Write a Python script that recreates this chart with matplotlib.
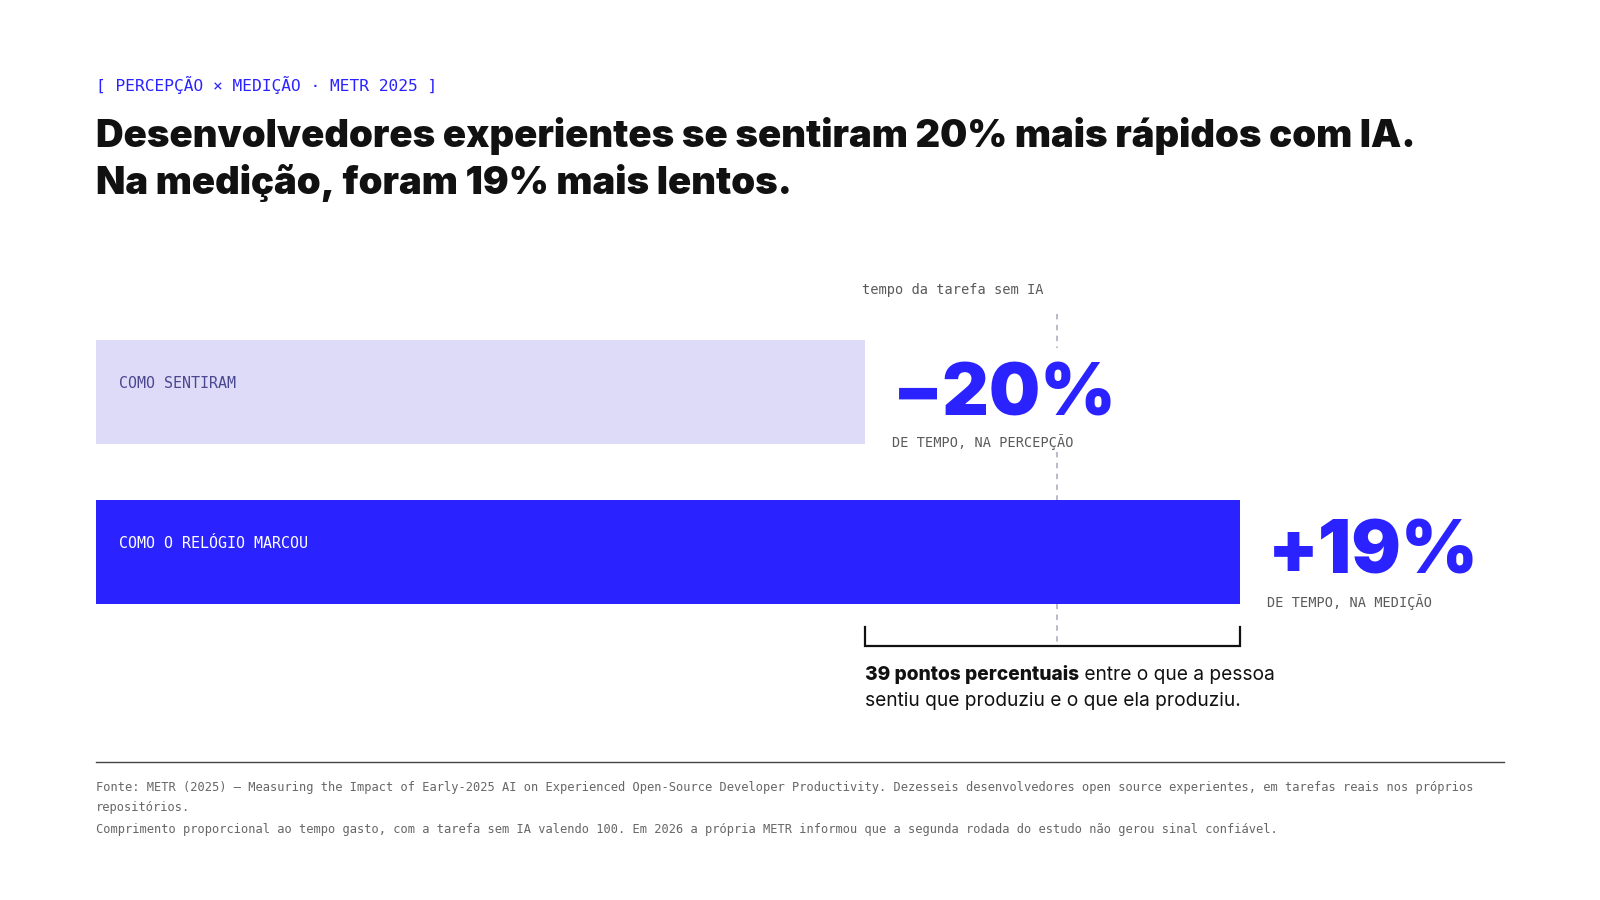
import matplotlib
matplotlib.use("Agg")
import matplotlib.pyplot as plt

# dados
categorias = ["COMO SENTIRAM", "COMO O RELÓGIO MARCOU"]
valores = [80, 119]          # tempo gasto, tarefa sem IA = 100
base = 100
rotulos = ["−20%", "+19%"]
subrotulos = ["DE TEMPO, NA PERCEPÇÃO", "DE TEMPO, NA MEDIÇÃO"]
diferenca = valores[1] - valores[0]

AZUL = "#2B23FF"
LILAS = "#DEDBF9"
CINZA = "#5a5a5a"
MONO = ["DejaVu Sans Mono"]
SANS = ["Inter", "DejaVu Sans"]

W, H = 1600, 900
fig = plt.figure(figsize=(16, 9), dpi=100)
ax = fig.add_axes([0, 0, 1, 1])
ax.axis("off")

# escala: 0 -> px 96, 100 -> px 1057
x0, x100 = 96, 1057
u = (x100 - x0) / base
ax.set_xlim(-x0 / u, (W - x0) / u)
ax.set_ylim(H, 0)

def px(x):
    return (x - x0) / u

# barras
ys = [392, 552]
cores = [LILAS, AZUL]
ax.barh(ys, valores, height=104, left=0, color=cores, zorder=2)

# linha de referência (tarefa sem IA)
ax.vlines([base, base], [314, 452], [348, 645], colors="#b4b4c4",
          linestyles=(0, (3, 3)), lw=1.3, zorder=1)
ax.text(px(862), 290, "tempo da tarefa sem IA", family=MONO, fontsize=9.8,
        color=CINZA, va="center", ha="left")

# rótulos das barras
cores_txt = ["#4a4690", "white"]
for y, c, ct in zip(ys, categorias, cores_txt):
    ax.text(px(119), y - 9, c, family=MONO, fontsize=10.8, color=ct,
            va="center", ha="left", zorder=3)

# números grandes
pos_num = [(px(893), 415, 442), (px(1268), 573, 602)]
tamanhos = [52, 53]
for (x, yn, ys_), r, s, fs in zip(pos_num, rotulos, subrotulos, tamanhos):
    ax.text(x, yn, r, family=SANS, fontsize=fs, fontweight="black", color=AZUL,
            va="baseline", ha="left", zorder=3)
    ax.text(x - 0.1, ys_, s, family=MONO, fontsize=9.8, color=CINZA,
            va="center", ha="left", zorder=3)

# colchete da diferença
yb0, yb1 = 627, 646
ax.plot([valores[0], valores[0], valores[1], valores[1]], [yb0, yb1, yb1, yb0],
        color="#111111", lw=1.6, solid_joinstyle="miter", zorder=3)

fig.canvas.draw()
r = fig.canvas.get_renderer()
t1 = ax.text(valores[0], 675, f"{diferenca} pontos percentuais", family=SANS,
             fontsize=13.8, fontweight="heavy", color="#111111", va="center", ha="left")
bb = t1.get_window_extent(r)
x_end = ax.transData.inverted().transform((bb.x1, 0))[0]
ax.text(x_end, 675, " entre o que a pessoa", family=SANS, fontsize=13.8,
        color="#111111", va="center", ha="left")
ax.text(valores[0], 701, "sentiu que produziu e o que ela produziu.", family=SANS,
        fontsize=13.8, color="#111111", va="center", ha="left")

# cabeçalho
fig.text(96 / W, 1 - 85 / H, "[ PERCEPÇÃO × MEDIÇÃO · METR 2025 ]", family=MONO,
         fontsize=11.7, color=AZUL, va="center", ha="left")
fig.text(96 / W, 1 - 147 / H, "Desenvolvedores experientes se sentiram 20% mais rápidos com IA.",
         family=SANS, fontsize=27.6, fontweight="black", color="#111111", va="baseline", ha="left")
fig.text(96 / W, 1 - 194 / H, "Na medição, foram 19% mais lentos.",
         family=SANS, fontsize=27.6, fontweight="black", color="#111111", va="baseline", ha="left")

# rodapé
ax.plot([px(96), px(1504)], [762, 762], color="#444444", lw=1.0)
notas = [
    "Fonte: METR (2025) — Measuring the Impact of Early-2025 AI on Experienced Open-Source Developer Productivity. Dezesseis desenvolvedores open source experientes, em tarefas reais nos próprios",
    "repositórios.",
    "Comprimento proporcional ao tempo gasto, com a tarefa sem IA valendo 100. Em 2026 a própria METR informou que a segunda rodada do estudo não gerou sinal confiável.",
]
for y, n in zip([788, 808, 830], notas):
    fig.text(96 / W, 1 - y / H, n, family=MONO, fontsize=8.65, color="#666666",
             va="center", ha="left")

fig.savefig("out.png", dpi=100, facecolor="white")
